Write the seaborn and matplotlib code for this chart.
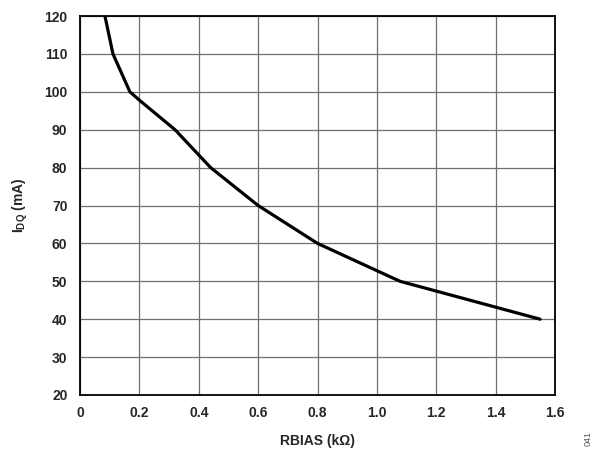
import matplotlib
matplotlib.use("Agg")
import matplotlib.pyplot as plt
import seaborn as sns
import pandas as pd

rbias = [0.084, 0.111, 0.168, 0.20, 0.32, 0.44, 0.60, 0.80, 1.078, 1.55]
idq = [120, 110, 100, 97.8, 90, 80, 70, 60, 50, 40]
xticks = [0, 0.2, 0.4, 0.6, 0.8, 1.0, 1.2, 1.4, 1.6]
xticklabels = ["0", "0.2", "0.4", "0.6", "0.8", "1.0", "1.2", "1.4", "1.6"]
yticks = [20, 30, 40, 50, 60, 70, 80, 90, 100, 110, 120]

sns.set_style("white")
plt.rcParams['font.family'] = ['Liberation Sans', 'DejaVu Sans']
plt.rcParams['mathtext.fontset'] = 'custom'
plt.rcParams['mathtext.rm'] = 'Liberation Sans:bold'
plt.rcParams['mathtext.bf'] = 'Liberation Sans:bold'
plt.rcParams['mathtext.it'] = 'Liberation Sans:bold'

df = pd.DataFrame({"RBIAS": rbias, "IDQ": idq})

fig = plt.figure(figsize=(5.94, 4.49), dpi=100)
ax = fig.add_axes([80/594, 1-395/449, 475/594, 379/449])
sns.lineplot(data=df, x="RBIAS", y="IDQ", ax=ax, color="black", linewidth=2.3, sort=False)

ax.set_xlim(0, 1.6)
ax.set_ylim(20, 120)
ax.set_xticks(xticks)
ax.set_xticklabels(xticklabels, fontsize=10, fontweight="bold")
ax.set_yticks(yticks)
ax.set_yticklabels([str(v) for v in yticks], fontsize=10, fontweight="bold")
ax.grid(True, color="#707070", linewidth=0.9)
for s in ax.spines.values():
    s.set_color("black")
    s.set_linewidth(1.3)
ax.tick_params(axis="x", length=0, pad=8)
ax.tick_params(axis="y", length=0, pad=9)
ax.set_xlabel("RBIAS (kΩ)", fontsize=10, fontweight="bold", labelpad=10)
ax.set_ylabel(r"$\mathrm{I_{DQ}}$ (mA)", fontsize=10, fontweight="bold", labelpad=10)
fig.text(588/594, 1-438/449, "041", rotation=90, fontsize=6.5, color="#555555", ha="center", va="center")

fig.savefig("out.png", dpi=100)
